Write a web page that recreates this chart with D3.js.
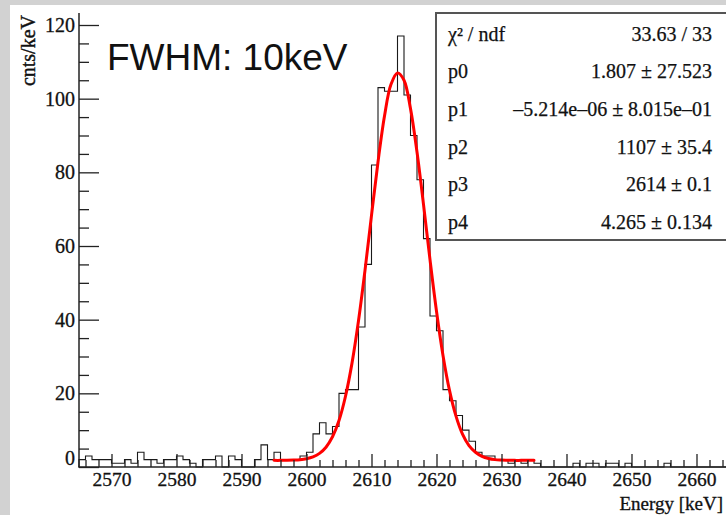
<!DOCTYPE html>
<html><head><meta charset="utf-8">
<script src="https://cdn.jsdelivr.net/npm/d3@7"></script>
<style>html,body{margin:0;padding:0;background:#fff;overflow:hidden}svg{display:block}</style>
</head><body>
<svg id="c" width="726" height="515"></svg>
<script>
// ---- data ----
const energies = [2565,2566,2567,2568,2569,2570,2571,2572,2573,2574,2575,2576,2577,2578,2579,2580,2581,2582,2583,2584,
  2585,2586,2587,2588,2589,2590,2591,2592,2593,2594,2595,2596,2597,2598,2599,2600,2601,2602,2603,2604,
  2605,2606,2607,2608,2609,2610,2611,2612,2613,2614,2615,2616,2617,2618,2619,2620,2621,2622,2623,2624,
  2625,2626,2627,2628,2629,2630,2631,2632,2633,2634,2635,2636,2637,2638,2639,2640,2641,2642,2643,2644,
  2645,2646,2647,2648,2649,2650,2651,2652,2653,2654,2655,2656,2657,2658,2659,2660,2661,2662,2663,2664];
const counts = [2,3,2,2,2,1,1,2,1,4,2,2,1,2,2,3,2,1,0,2,
  2,3,0,3,2,0,0,2,6,2,4,2,2,2,3,4,9,12,9,11,
  20,21,21,38,55,82,103,102,102,117,101,90,78,62,41,37,21,18,14,10,
  7,4,3,3,2,2,1,2,1,2,1,0,0,0,0,0,1,0,1,1,
  0,1,1,0,1,0,0,0,0,0,1,0,0,0,0,0,0,0,0,0];
const binWidth = 1;

const fitEnergies = [2595,2596,2597,2598,2599,2600,2601,2602,2603,2604,2605,2606,2607,2608,2609,2610,2611,2612,2613,2614,
  2615,2616,2617,2618,2619,2620,2621,2622,2623,2624,2625,2626,2627,2628,2629,2630,2631,2632,2633,2634,2635];
const fitValues = [1.8,1.8,1.83,1.89,2.0,2.25,2.74,3.69,5.37,8.2,12.6,19.2,28.2,39.7,53.4,68.3,82.8,95.3,103.9,107.0,
  105.0,97.3,85.5,71.3,56.3,42.3,30.3,20.8,13.8,8.9,5.8,4.0,2.9,2.3,2.0,1.9,1.85,1.8,1.8,1.8,1.8];

const xTicks = [2570,2580,2590,2600,2610,2620,2630,2640,2650,2660];
const yTicks = [0,20,40,60,80,100,120];

const statLabels = ["χ² / ndf","p0","p1","p2","p3","p4"];
const statValues = ["33.63 / 33","1.807 ± 27.523","–5.214e–06 ± 8.015e–01","1107 ± 35.4","2614 ± 0.1","4.265 ± 0.134"];

const annotation = "FWHM: 10keV";
const xTitle = "Energy [keV]";
const yTitle = "cnts/keV";

// ---- drawing ----
const svg = d3.select("#c");
const serif = "'Liberation Serif','Times New Roman',serif";
const sans = "'Liberation Sans',Arial,sans-serif";
const ink = "#111";

svg.append("rect").attr("width",726).attr("height",515).attr("fill","#d2d2d2");
svg.append("rect").attr("x",10).attr("y",5).attr("width",716).attr("height",510).attr("fill","#fff");

const x = d3.scaleLinear().domain([2565,2665]).range([79,729]);
const y = d3.scaleLinear().domain([0,120]).range([467,25]);

// histogram outline
let p = `M${x(energies[0])},${y(0)}`;
energies.forEach((e,i)=>{ p += `V${y(counts[i])}H${x(e+binWidth)}`; });
p += `V${y(0)}`;
svg.append("path").attr("d",p).attr("fill","none").attr("stroke","#1a1a1a").attr("stroke-width",1.1);

// fit curve
const line = d3.line().x((d,i)=>x(fitEnergies[i])).y(d=>y(d)).curve(d3.curveCatmullRom);
svg.append("path").attr("d",line(fitValues)).attr("fill","none").attr("stroke","#ff0000").attr("stroke-width",3).attr("stroke-linecap","round");

// y axis
const yMinor = d3.range(0,121,5).filter(v=>v%20!==0);
const gyMinor = svg.append("g").attr("transform","translate(79,0)")
  .call(d3.axisLeft(y).tickValues(yMinor).tickSizeInner(-10).tickSizeOuter(0).tickFormat(""));
const gy = svg.append("g").attr("transform","translate(79,0)")
  .call(d3.axisLeft(y).tickValues(yTicks).tickSizeInner(-20).tickSizeOuter(0).tickPadding(4).tickFormat(d3.format("d")));
[gy,gyMinor].forEach(g=>{g.select(".domain").remove(); g.selectAll("line").attr("stroke","#222").attr("stroke-width",1.3);});
gy.selectAll("text").attr("font-family",serif).attr("font-size",20).attr("fill",ink).attr("stroke",ink).attr("stroke-width",0.3);
gy.selectAll("text").filter(d=>d===0).attr("dy","-0.12em");

// x axis
const xMinor = d3.range(2566,2665,2).filter(v=>v%10!==0);
const gxMinor = svg.append("g").attr("transform","translate(0,467)")
  .call(d3.axisBottom(x).tickValues(xMinor).tickSizeInner(-7).tickSizeOuter(0).tickFormat(""));
const gx = svg.append("g").attr("transform","translate(0,467)")
  .call(d3.axisBottom(x).tickValues(xTicks).tickSizeInner(-13).tickSizeOuter(0).tickPadding(5).tickFormat(d3.format("d")));
[gx,gxMinor].forEach(g=>{g.select(".domain").remove(); g.selectAll("line").attr("stroke","#222").attr("stroke-width",1.3);});
gx.selectAll("text").attr("font-family",serif).attr("font-size",19.5).attr("fill",ink).attr("stroke",ink).attr("stroke-width",0.3);

// axis lines
svg.append("line").attr("x1",79).attr("x2",79).attr("y1",13).attr("y2",467.5).attr("stroke","#222").attr("stroke-width",1.5);
svg.append("line").attr("x1",78.5).attr("x2",729).attr("y1",467).attr("y2",467).attr("stroke","#222").attr("stroke-width",1.5);

// axis titles
svg.append("text").attr("transform","translate(35,15) rotate(-90)").attr("text-anchor","end")
  .attr("font-family",serif).attr("font-size",20).attr("fill",ink).attr("stroke",ink).attr("stroke-width",0.4).text(yTitle);
svg.append("text").attr("x",723).attr("y",510).attr("text-anchor","end")
  .attr("font-family",serif).attr("font-size",19).attr("fill",ink).attr("stroke",ink).attr("stroke-width",0.3).text(xTitle);

// annotation
svg.append("text").attr("x",107).attr("y",70).attr("font-family",sans).attr("font-size",37)
  .attr("fill","#111").text(annotation);

// stats box
svg.append("rect").attr("x",436).attr("y",13).attr("width",310).attr("height",227)
  .attr("fill","#fff").attr("stroke","#555").attr("stroke-width",2);
const sg = svg.append("g").attr("font-family",serif).attr("font-size",20).attr("fill",ink).attr("stroke",ink).attr("stroke-width",0.25);
statLabels.forEach((l,i)=>{
  const by = 40.7 + i*37.6;
  sg.append("text").attr("x",448).attr("y",by).text(l);
  sg.append("text").attr("x",712).attr("y",by).attr("text-anchor","end").text(statValues[i]);
});
</script>
</body></html>
